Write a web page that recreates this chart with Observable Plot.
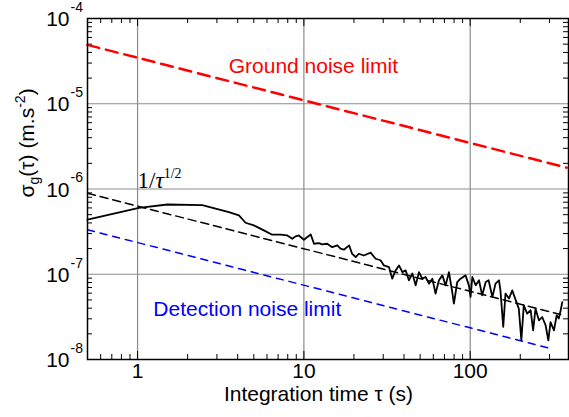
<!DOCTYPE html>
<html><head><meta charset="utf-8">
<script src="https://cdn.jsdelivr.net/npm/d3@7"></script>
<script src="https://cdn.jsdelivr.net/npm/@observablehq/plot@0.6"></script>
<style>body{margin:0;background:#fff} svg{display:block}</style>
</head><body><div id="chart"></div>
<script>
// Measured Allan deviation (integration time in s, sigma in m.s^-2)
const tau = [0.5,1.02,1.51,2.45,3.54,4.07,4.46,5.00,5.75,6.45,
  7.24,7.95,8.52,8.91,9.33,10.0,10.5,11.0,11.5,12.3,
  12.9,13.8,14.8,15.9,16.6,17.4,18.7,19.5,20.5,21.4,
  22.9,25.2,27.0,28.9,30.3,32.5,34.0,35.6,37.3,39.1,
  40.9,42.8,44.9,47.0,49.2,51.5,53.9,56.5,59.2,61.9,
  64.9,68.0,71.2,74.5,78.0,79.8,83.6,87.5,93.8,98.2,
  100.5,103,108,113,118,124,129,136,142,149,
  152,158,163,171,179,188,196,203,210,220,
  231,239,247,259,271,284,295,304,319,331,
  341,350,358];
const sigma = [4.36e-7,6.02e-7,6.58e-7,6.46e-7,5.35e-7,4.90e-7,4.02e-7,3.74e-7,3.27e-7,2.91e-7,
  2.91e-7,2.85e-7,2.61e-7,2.78e-7,2.85e-7,2.54e-7,2.73e-7,2.93e-7,2.28e-7,2.32e-7,
  2.24e-7,2.28e-7,2.08e-7,2.18e-7,2.00e-7,1.94e-7,2.18e-7,1.74e-7,1.59e-7,1.74e-7,
  1.66e-7,1.79e-7,1.52e-7,1.46e-7,1.27e-7,1.21e-7,8.87e-8,1.11e-7,1.27e-7,1.06e-7,
  1.11e-7,8.49e-8,1.02e-7,7.41e-8,1.06e-7,8.88e-8,9.28e-8,7.76e-8,8.88e-8,5.93e-8,
  8.49e-8,9.70e-8,7.41e-8,1.06e-7,6.19e-8,4.53e-8,8.11e-8,8.88e-8,9.70e-8,7.41e-8,
  5.41e-8,9.28e-8,7.41e-8,8.49e-8,5.66e-8,8.11e-8,8.49e-8,5.41e-8,7.76e-8,8.49e-8,
  6.47e-8,2.41e-8,5.93e-8,5.18e-8,6.47e-8,4.94e-8,3.95e-8,1.68e-8,4.33e-8,3.46e-8,
  3.78e-8,2.20e-8,3.95e-8,2.88e-8,3.15e-8,2.52e-8,1.68e-8,2.75e-8,2.20e-8,3.30e-8,
  3.02e-8,3.78e-8,4.72e-8];

// Reference lines (end points)
const groundTau = [0.5, 380];
const groundSigma = [4.9e-5, 1.78e-6];
const slopeTau = [0.5, 350];
const slopeSigma = [8.9e-7, 3.37e-8];
const detectTau = [0.5, 312];
const detectSigma = [3.33e-7, 1.33e-8];

// Axis ticks
const xMajor = [1, 10, 100];
const xMinor = [0.5,0.6,0.7,0.8,0.9,2,3,4,5,6,7,8,9,20,30,40,50,60,70,80,90,200,300];
const yExp = [-8, -7, -6, -5, -4];
const yGrid = [1e-7, 1e-6, 1e-5];
const yMinor = [];
for (const e of [-8,-7,-6,-5]) for (const m of [2,3,4,5,6,7,8,9]) yMinor.push(m * 10 ** e);

const yTitle = "σg(τ) (m.s-2)";
const slopeLabel = "1/τ1/2";

const curve = tau.map((t, i) => ({tau: t, sigma: sigma[i]}));
const mk = (ts, ss) => ts.map((t, i) => ({tau: t, sigma: ss[i]}));

const W = 481, H = 341;
const chart = Plot.plot({
  width: 569, height: 417,
  marginLeft: 87, marginRight: 1, marginTop: 18, marginBottom: 58,
  x: {type: "log", domain: [0.5, 390], axis: null},
  y: {type: "log", domain: [1e-8, 1e-4], axis: null},
  style: {fontFamily: "'Liberation Sans', Arial, sans-serif", fontSize: "21px", background: "#fff", color: "#000"},
  marks: [
    Plot.ruleX(xMajor, {x: d => d, stroke: "#8c8c8c", strokeWidth: 1.2}),
    Plot.ruleY(yGrid, {y: d => d, stroke: "#8c8c8c", strokeWidth: 1.2}),
    // inward ticks, all four sides
    Plot.tickX(xMinor, {x: d => d, insetTop: H - 5, stroke: "#000"}),
    Plot.tickX(xMinor, {x: d => d, insetBottom: H - 5, stroke: "#000"}),
    Plot.tickX(xMajor, {x: d => d, insetTop: H - 8, stroke: "#000"}),
    Plot.tickX(xMajor, {x: d => d, insetBottom: H - 8, stroke: "#000"}),
    Plot.tickY(yMinor, {y: d => d, insetRight: W - 5, stroke: "#000"}),
    Plot.tickY(yMinor, {y: d => d, insetLeft: W - 5, stroke: "#000"}),
    Plot.line(mk(groundTau, groundSigma), {x: "tau", y: "sigma", stroke: "#ff0000", strokeWidth: 2.5, strokeDasharray: "12,7"}),
    Plot.line(mk(slopeTau, slopeSigma), {x: "tau", y: "sigma", stroke: "#000", strokeWidth: 1.5, strokeDasharray: "8,5"}),
    Plot.line(mk(detectTau, detectSigma), {x: "tau", y: "sigma", stroke: "#0000ff", strokeWidth: 1.5, strokeDasharray: "7,6"}),
    Plot.line(curve, {x: "tau", y: "sigma", stroke: "#000", strokeWidth: 1.8, strokeLinejoin: "round"}),
    Plot.frame({stroke: "#000", strokeWidth: 1.5}),
    // tick labels
    Plot.text(xMajor, {x: d => d, text: d => String(d), frameAnchor: "bottom", lineAnchor: "middle", dy: 12, fontSize: 21}),
    Plot.text(yExp, {y: d => 10 ** d, text: () => "10", frameAnchor: "left", textAnchor: "end", lineAnchor: "middle", dx: -18, dy: 1, fontSize: 21}),
    Plot.text(yExp, {y: d => 10 ** d, text: d => String(d), frameAnchor: "left", textAnchor: "start", lineAnchor: "middle", dx: -17, dy: -11, fontSize: 14}),
    // axis titles
    Plot.text(["Integration time τ (s)"], {frameAnchor: "bottom", lineAnchor: "middle", dx: -9.5, dy: 35, fontSize: 21}),
    Plot.text([yTitle], {frameAnchor: "left", rotate: -90, lineAnchor: "middle", dx: -60.7, dy: 8.5, fontSize: 21}),
    // annotations
    Plot.text(["Ground noise limit"], {x: 11.4, y: 2.75e-5, lineAnchor: "middle", fill: "#ff0000", fontSize: 21}),
    Plot.text(["Detection noise limit"], {x: 4.57, y: 3.89e-8, lineAnchor: "middle", fill: "#0000ff", fontSize: 21}),
    Plot.text([slopeLabel], {x: 1, y: 1.26e-6, textAnchor: "start", lineAnchor: "middle", fontFamily: "'Liberation Serif', 'Times New Roman', serif", fontSize: 23})
  ]
});
document.getElementById("chart").appendChild(chart);

const svg = d3.select(chart);
const byText = s => svg.selectAll("text").filter(function () { return this.textContent === s; });

const yl = byText(yTitle);
yl.text("");
yl.append("tspan").text("σ");
yl.append("tspan").attr("font-size", 14).attr("dy", 5).text("g");
yl.append("tspan").attr("dy", -5).text("(τ) (m.s");
yl.append("tspan").attr("font-size", 14).attr("dy", -9).text("-2");
yl.append("tspan").attr("dy", 9).text(")");

const sl = byText(slopeLabel);
sl.text("");
sl.append("tspan").text("1/");
sl.append("tspan").attr("font-style", "italic").text("τ");
sl.append("tspan").attr("font-size", 14).attr("dy", -10).text("1/2");
</script>
</body></html>
